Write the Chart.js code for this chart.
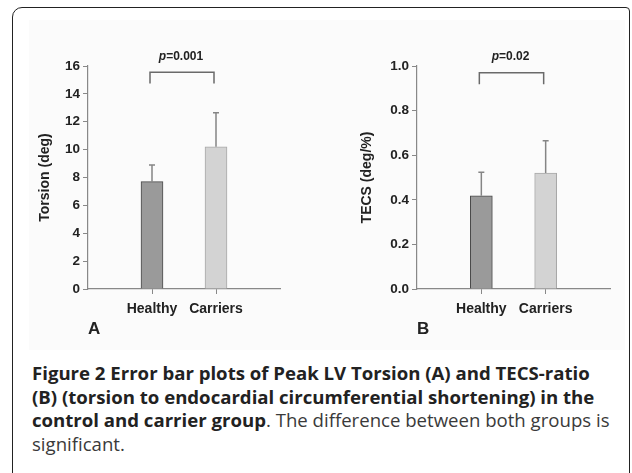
<!DOCTYPE html>
<html>
<head>
<meta charset="utf-8">
<script src="https://cdn.jsdelivr.net/npm/chart.js@4.4.0/dist/chart.umd.min.js"></script>
<style>
  body { margin: 0; background: #fff; width: 632px; height: 473px; overflow: hidden; position: relative; }
  #frame { position: absolute; left: 12px; top: 7px; width: 616px; height: 520px;
           border: 1.5px solid #222; border-radius: 10px 4px 0 0; }
  #plotbg { position: absolute; left: 29px; top: 20px; width: 596px; height: 330px; background: #fbfbfb; }
  .cv { position: absolute; top: 0; }
  #caption { position: absolute; left: 32px; top: 361px; font-family: "Open Sans", sans-serif;
             font-size: 18.6px; line-height: 23.5px; color: #3a3a3a; white-space: nowrap; }
  #caption b { color: #222; font-weight: 700; }
</style>
</head>
<body>
<div id="frame"></div>
<div id="plotbg"></div>
<div class="cv" style="left:0;width:316px;height:350px"><canvas id="chartA"></canvas></div>
<div class="cv" style="left:316px;width:316px;height:350px"><canvas id="chartB"></canvas></div>
<div id="caption">
<b>Figure 2 Error bar plots of Peak LV Torsion (A) and TECS-ratio</b><br>
<b>(B) (torsion to endocardial circumferential shortening) in the</b><br>
<b>control and carrier group</b>. The difference between both groups is<br>
significant.
</div>
<script>
const categories = ['Healthy', 'Carriers'];

// panel A: peak LV torsion (deg)
const torsionMean = [7.7, 10.2];
const torsionUpper = [8.9, 12.65];
const torsionTicks = [0, 2, 4, 6, 8, 10, 12, 14, 16];

// panel B: TECS ratio (deg/%)
const tecsMean = [0.418, 0.52];
const tecsUpper = [0.523, 0.665];
const tecsTicks = [0, 0.2, 0.4, 0.6, 0.8, 1.0];

const pValues = ['p=0.001', 'p=0.02'];
const bracketTop = [15.55, 0.97];
const bracketFoot = [14.75, 0.918];

const barFill = ['#9a9a9a', '#d3d3d3'];
const barEdge = ['#4a4a4a', '#a8a8a8'];

// error bars (upper only) + significance bracket
const extrasPlugin = {
    id: 'extras',
    afterDatasetsDraw(chart, args, opts) {
        const ctx = chart.ctx;
        const xs = chart.scales.x, ys = chart.scales.y;
        const meta = chart.getDatasetMeta(0);
        ctx.save();
        ctx.strokeStyle = '#858585';
        ctx.lineWidth = 1.5;
        meta.data.forEach((bar, i) => {
            const top = ys.getPixelForValue(opts.upper[i]);
            ctx.beginPath();
            ctx.moveTo(bar.x, bar.y);
            ctx.lineTo(bar.x, top);
            ctx.moveTo(bar.x - 3, top);
            ctx.lineTo(bar.x + 3, top);
            ctx.stroke();
        });
        const x1 = xs.getPixelForValue(1) - 2, x2 = xs.getPixelForValue(2) - 2;
        const yt = ys.getPixelForValue(opts.bracketTop), yf = ys.getPixelForValue(opts.bracketFoot);
        ctx.strokeStyle = '#6a6a6a';
        ctx.beginPath();
        ctx.moveTo(x1, yf);
        ctx.lineTo(x1, yt);
        ctx.lineTo(x2, yt);
        ctx.lineTo(x2, yf);
        ctx.stroke();
        // p value, italic p
        const [pl, rest] = [opts.pText.slice(0, 1), opts.pText.slice(1)];
        ctx.fillStyle = '#222';
        ctx.textBaseline = 'middle';
        ctx.font = 'italic bold 12px "Liberation Sans", Arial';
        const w1 = ctx.measureText(pl).width;
        ctx.font = 'bold 12px "Liberation Sans", Arial';
        const w2 = ctx.measureText(rest).width;
        const cx = (x1 + x2) / 2 - 1, start = cx - (w1 + w2) / 2, ty = yt - 16;
        ctx.textAlign = 'left';
        ctx.font = 'italic bold 12px "Liberation Sans", Arial';
        ctx.fillText(pl, start, ty);
        ctx.font = 'bold 12px "Liberation Sans", Arial';
        ctx.fillText(rest, start + w1, ty);
        ctx.restore();
    }
};

const makeChart = (id, means, upper, ticks, digits, yTitle, letter, pad, axisW, pIdx) => {
    const ctx = document.getElementById(id).getContext('2d');
    return new Chart(ctx, {
        type: 'bar',
        data: {
            datasets: [{
                data: means.map((v, i) => ({x: i + 1, y: v})),
                backgroundColor: barFill,
                borderColor: barEdge,
                borderWidth: 1,
                barThickness: 22
            }]
        },
        options: {
            responsive: true,
            maintainAspectRatio: false,
            animation: false,
            layout: {padding: pad},
            plugins: {
                legend: {display: false},
                tooltip: {enabled: false},
                extras: {upper: upper, pText: pValues[pIdx], bracketTop: bracketTop[pIdx], bracketFoot: bracketFoot[pIdx]}
            },
            scales: {
                x: {
                    type: 'linear',
                    offset: false,
                    min: 0,
                    max: 3,
                    afterBuildTicks: (s) => { s.ticks = categories.map((c, i) => ({value: i + 1})); },
                    afterFit: (s) => { s.height = 61; },
                    ticks: {
                        callback: (v) => categories[v - 1],
                        color: '#222',
                        font: {family: '"Liberation Sans", Arial', size: 14, weight: 'bold'},
                        padding: 7,
                        maxRotation: 0,
                        autoSkip: false
                    },
                    grid: {drawOnChartArea: false, color: '#888', tickLength: 5, offset: false},
                    border: {color: '#888', width: 1.2},
                    title: {
                        display: true, text: letter, align: 'start', color: '#222',
                        font: {family: '"Liberation Sans", Arial', size: 17, weight: 'bold'},
                        padding: {top: 0, bottom: 10}
                    }
                },
                y: {
                    min: ticks[0],
                    max: ticks[ticks.length - 1],
                    afterBuildTicks: (s) => { s.ticks = ticks.map(v => ({value: v})); },
                    afterFit: (s) => { s.width = axisW; },
                    ticks: {
                        callback: (v) => v.toFixed(digits),
                        color: '#222',
                        font: {family: '"Liberation Sans", Arial', size: 13.5, weight: 'bold'},
                        padding: 3
                    },
                    grid: {drawOnChartArea: false, color: '#888', tickLength: 5},
                    border: {color: '#888', width: 1.2},
                    title: {
                        display: true, text: yTitle, color: '#222',
                        font: {family: '"Liberation Sans", Arial', size: 14, weight: 'bold'},
                        padding: {top: 3, bottom: 0}
                    }
                }
            }
        },
        plugins: [extrasPlugin]
    });
};

window.addEventListener('DOMContentLoaded', () => {
    makeChart('chartA', torsionMean, torsionUpper, torsionTicks, 0, 'Torsion (deg)', 'A',
        {top: 66, right: 36, left: 34, bottom: 0}, 54, 0);
    makeChart('chartB', tecsMean, tecsUpper, tecsTicks, 1, 'TECS (deg/%)', 'B',
        {top: 66, right: 22, left: 40, bottom: 0}, 61, 1);
});
</script>
</body>
</html>
